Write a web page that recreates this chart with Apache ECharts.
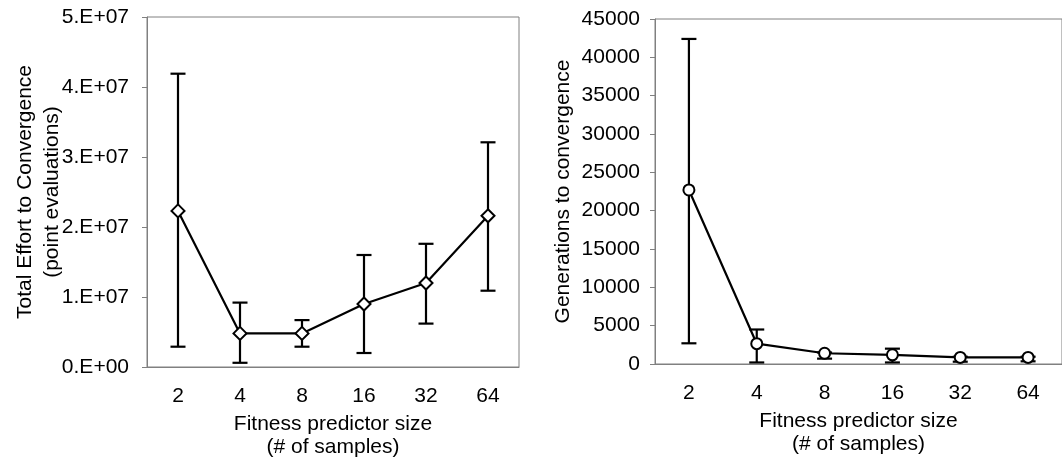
<!DOCTYPE html>
<html>
<head>
<meta charset="utf-8">
<script src="https://cdn.jsdelivr.net/npm/echarts@6/dist/echarts.min.js"></script>
<style>
html,body{margin:0;padding:0;background:#fff;}
#main{width:1062px;height:464px;}
</style>
</head>
<body>
<div id="main"></div>
<script>
// ---- data ----
const categories = ['2', '4', '8', '16', '32', '64'];

// Left chart: total effort (point evaluations)
const effortMean  = [22.3e6, 4.8e6, 4.8e6, 9.0e6, 12.0e6, 21.6e6];
const effortLower = [2.9e6, 0.6e6, 2.9e6, 2.0e6, 6.2e6, 10.9e6];
const effortUpper = [41.9e6, 9.2e6, 6.7e6, 16.0e6, 17.6e6, 32.1e6];
const effortTickLabels = ['0.E+00', '1.E+07', '2.E+07', '3.E+07', '4.E+07', '5.E+07'];

// Right chart: generations to convergence
const genMean  = [22700, 2650, 1400, 1200, 860, 860];
const genLower = [2700, 200, 700, 200, 300, 350];
const genUpper = [42400, 4500, 1500, 2000, 950, 950];

const FONT = '"Liberation Sans", Arial, sans-serif';
const FS = 21;
const GRAY = '#808080';

function errRender(params, api) {
  const x = api.value(0), lo = api.value(1), hi = api.value(2);
  const pHi = api.coord([x, hi]);
  const pLo = api.coord([x, lo]);
  const hw = 7.5;
  const st = { stroke: '#000', lineWidth: 2.2 };
  return {
    type: 'group',
    children: [
      { type: 'line', shape: { x1: pHi[0], y1: pHi[1], x2: pLo[0], y2: pLo[1] }, style: st },
      { type: 'line', shape: { x1: pHi[0] - hw, y1: pHi[1], x2: pHi[0] + hw, y2: pHi[1] }, style: st },
      { type: 'line', shape: { x1: pLo[0] - hw, y1: pLo[1], x2: pLo[0] + hw, y2: pLo[1] }, style: st }
    ]
  };
}

function xAxisDef(gridIndex) {
  return {
    type: 'category', gridIndex, data: categories,
    axisLine: { lineStyle: { color: GRAY, width: 1 } },
    axisTick: { length: 5, lineStyle: { color: GRAY } },
    axisLabel: { color: '#000', fontSize: FS, fontFamily: FONT, margin: 19 },
    name: 'Fitness predictor size\n(# of samples)',
    nameLocation: 'middle', nameGap: 46, nameMoveOverlap: false,
    nameTextStyle: { color: '#000', fontSize: FS, fontFamily: FONT, lineHeight: 23 }
  };
}

const chart = echarts.init(document.getElementById('main'), null, { renderer: 'canvas' });
chart.setOption({
  animation: false,
  backgroundColor: '#fff',
  grid: [
    { left: 147, top: 17, width: 372, height: 350, show: true, borderColor: GRAY, borderWidth: 1, backgroundColor: 'transparent' },
    { left: 655, top: 19, right: -9, height: 345, show: true, borderColor: GRAY, borderWidth: 1, backgroundColor: 'transparent' }
  ],
  xAxis: [xAxisDef(0), xAxisDef(1)],
  yAxis: [
    {
      type: 'value', gridIndex: 0, min: 0, max: 5e7, interval: 1e7,
      axisLine: { show: true, lineStyle: { color: GRAY } },
      axisTick: { show: true, length: 5, lineStyle: { color: GRAY } },
      splitLine: { show: false },
      axisLabel: {
        color: '#000', fontSize: FS, fontFamily: FONT, margin: 18,
        formatter: v => effortTickLabels[Math.round(v / 1e7)]
      },
      name: 'Total Effort to Convergence\n(point evaluations)',
      nameLocation: 'middle', nameRotate: 90, nameGap: 81, nameMoveOverlap: false,
      nameTextStyle: { color: '#000', fontSize: FS, fontFamily: FONT, lineHeight: 27 }
    },
    {
      type: 'value', gridIndex: 1, min: 0, max: 45000, interval: 5000,
      axisLine: { show: true, lineStyle: { color: GRAY } },
      axisTick: { show: true, length: 5, lineStyle: { color: GRAY } },
      splitLine: { show: false },
      axisLabel: { color: '#000', fontSize: FS, fontFamily: FONT, margin: 15, formatter: v => String(v) },
      name: 'Generations to convergence',
      nameLocation: 'middle', nameRotate: 90, nameGap: 81, nameMoveOverlap: false,
      nameTextStyle: { color: '#000', fontSize: FS, fontFamily: FONT }
    }
  ],
  series: [
    {
      type: 'custom', xAxisIndex: 0, yAxisIndex: 0, z: 2,
      renderItem: errRender,
      data: categories.map((c, i) => [i, effortLower[i], effortUpper[i]])
    },
    {
      type: 'line', xAxisIndex: 0, yAxisIndex: 0, z: 3,
      data: effortMean,
      symbol: 'diamond', symbolSize: [13, 13],
      lineStyle: { color: '#000', width: 2.2 },
      itemStyle: { color: '#fff', borderColor: '#000', borderWidth: 2 }
    },
    {
      type: 'custom', xAxisIndex: 1, yAxisIndex: 1, z: 2,
      renderItem: errRender,
      data: categories.map((c, i) => [i, genLower[i], genUpper[i]])
    },
    {
      type: 'line', xAxisIndex: 1, yAxisIndex: 1, z: 3,
      data: genMean,
      symbol: 'circle', symbolSize: 11,
      lineStyle: { color: '#000', width: 2.2 },
      itemStyle: { color: '#fff', borderColor: '#000', borderWidth: 2 }
    }
  ]
});
</script>
</body>
</html>
